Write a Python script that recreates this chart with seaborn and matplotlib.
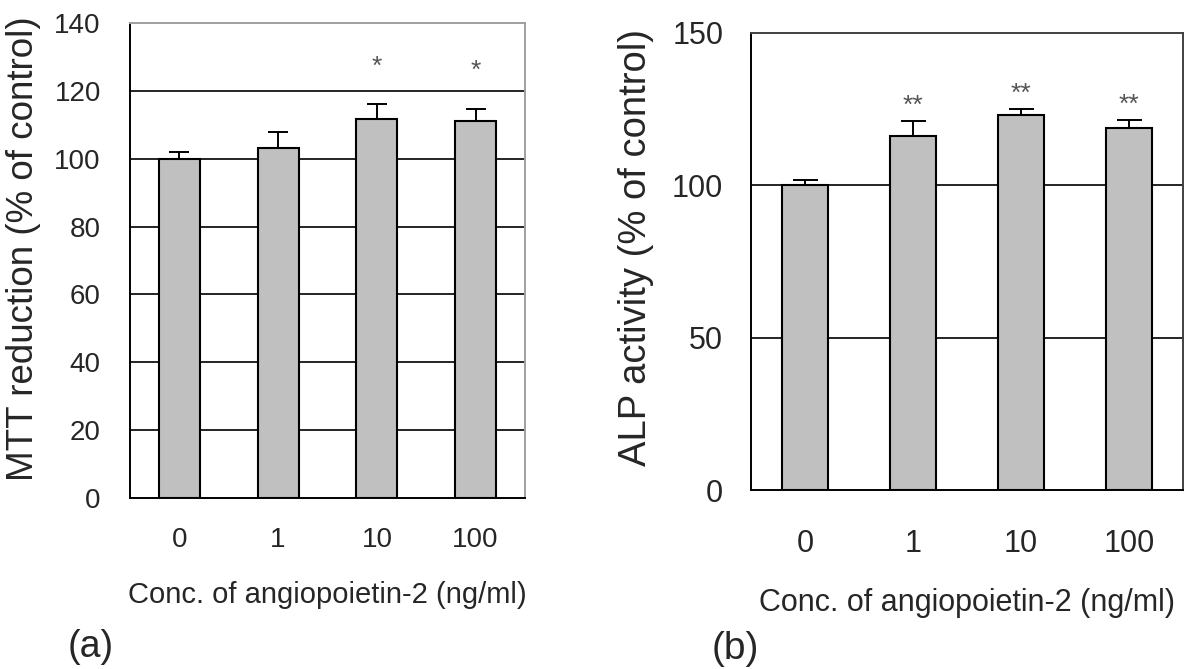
import numpy as np
import pandas as pd
import matplotlib
matplotlib.use("Agg")
import matplotlib.pyplot as plt
import seaborn as sns

#------------------------------------------------------------------------------
# values
#------------------------------------------------------------------------------
conc = ['0', '1', '10', '100']

mtt_mean = [100.0, 103.3, 111.7, 111.2]
mtt_err = [1.9, 4.6, 4.5, 3.6]
mtt_sig = ['', '', '*', '*']

alp_mean = [100.0, 116.3, 123.0, 118.8]
alp_err = [1.9, 4.7, 2.0, 2.7]
alp_sig = ['', '**', '**', '**']

xlab = 'Conc. of angiopoietin-2 (ng/ml)'

#------------------------------------------------------------------------------
sns.set_style("white")
plt.rcParams['font.family'] = ['Liberation Sans', 'DejaVu Sans']

fig = plt.figure(figsize=(11.86, 6.69), dpi=100)
ax1 = fig.add_axes([130/1186, 1-498/669, 395/1186, 475/669])
ax2 = fig.add_axes([751/1186, 1-490/669, 432/1186, 457/669])


def panel(ax, mean, err, sig, ymax, ystep, ylab, tick_fs, lab_fs, ylab_fs,
          bw, capsize, star_off, ypad, xpad, lpad, minor_len, spine_col,
          ylab_pos):
    df = pd.DataFrame({'conc': conc, 'val': mean})
    sns.barplot(data=df, x='conc', y='val', color='#c0c0c0', saturation=1,
                edgecolor='black', linewidth=1.5, width=bw, ax=ax, zorder=3)
    xs = np.arange(len(conc))
    ax.errorbar(xs, mean, yerr=[np.zeros(len(err)), err], fmt='none',
                ecolor='black', elinewidth=1.4, capsize=capsize,
                capthick=1.4, zorder=2)
    for x, m, e, s in zip(xs, mean, err, sig):
        if s:
            ax.text(x, m + e + star_off, s, ha='center', va='center',
                    fontsize=19, color='#555555')

    ax.set_xlim(-0.5, len(conc) - 0.5)
    ax.set_ylim(0, ymax)
    ax.set_yticks(np.arange(0, ymax + 1, ystep))
    for g in np.arange(ystep, ymax, ystep):
        ax.axhline(g, color='black', lw=1.2, zorder=1)

    ax.set_xticks(xs[:-1] + 0.5, minor=True)
    ax.tick_params(axis='x', which='major', length=0, pad=xpad,
                   labelsize=tick_fs)
    ax.tick_params(axis='x', which='minor', length=minor_len, width=1.2,
                   direction='in', color='black')
    ax.tick_params(axis='y', length=0, pad=ypad, labelsize=tick_fs)

    ax.set_xlabel(xlab, fontsize=lab_fs, labelpad=lpad)
    ax.set_ylabel(ylab, fontsize=ylab_fs)
    ax.yaxis.set_label_coords(*ylab_pos)

    ax.spines['left'].set_color('black')
    ax.spines['bottom'].set_color('black')
    ax.spines['top'].set_color(spine_col)
    ax.spines['right'].set_color(spine_col)
    for sp in ax.spines.values():
        sp.set_linewidth(1.4)
        sp.set_visible(True)


panel(ax1, mtt_mean, mtt_err, mtt_sig, 140, 20,
      'MTT reduction (% of control)', 20, 21, 26.5, 0.415, 7, 11.0,
      21, 21, 20, 8, '#a0a0a0', (-0.225, 0.524))
panel(ax2, alp_mean, alp_err, alp_sig, 150, 50,
      'ALP activity (% of control)', 22, 22, 27.5, 0.426, 9, 5.0,
      20, 28, 21, 7, '#404040', (-0.225, 0.531))

fig.text(68/1186, 1-647/669, '(a)', fontsize=27, ha='left', va='center')
fig.text(712/1186, 1-649/669, '(b)', fontsize=28, ha='left', va='center')

fig.savefig('out.png', dpi=100)
